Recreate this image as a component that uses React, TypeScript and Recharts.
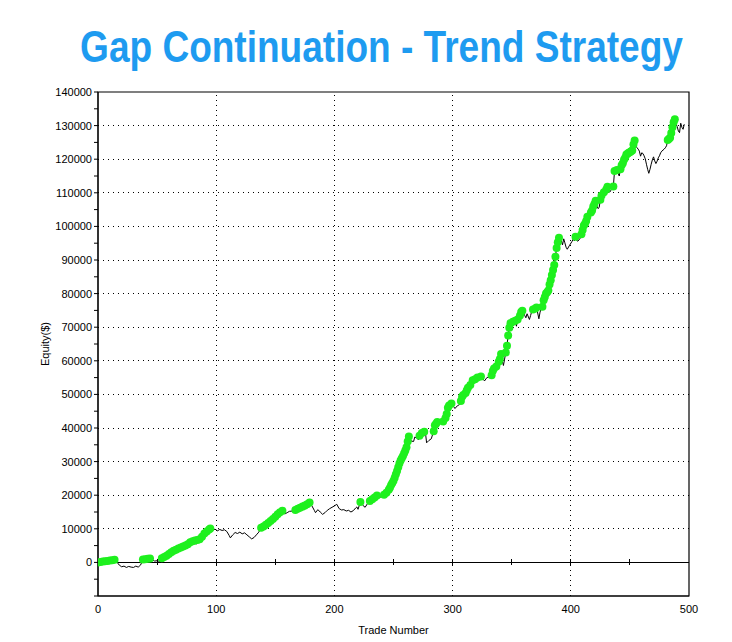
import React from 'react';
import {
  ComposedChart,
  Line,
  XAxis,
  YAxis,
  ReferenceLine,
  ReferenceArea,
} from 'recharts';

// Closed-trade equity curve: trade number and cumulative equity ($)
const tradeNumbers = [
  0, 2, 4, 6, 8, 10, 12, 14, 16, 18, 20, 22, 24, 26, 28, 30, 32, 34, 36, 38, 40, 42, 44, 46, 48, 50, 52, 53,
  54, 56, 58, 60, 62, 64, 66, 68, 70, 72, 74, 76, 78, 80, 82, 83, 84, 86, 88, 90, 92, 94, 95,
  97, 99, 101, 103, 105, 107, 109, 111, 112, 114, 116, 118, 120, 122, 124, 126, 128, 130, 132, 134, 136,
  138, 140, 142, 144, 146, 148, 150, 152, 154, 156, 158, 160, 162, 165,
  167, 169, 171, 173, 175, 177, 179, 181, 183, 184, 186, 188, 190, 192, 194, 196, 198, 200, 202, 204, 206,
  208, 210, 212, 214, 216, 218, 219, 220, 222, 224, 226, 228, 230, 232, 234, 236, 238, 240, 242, 244, 246,
  247, 248, 249, 250, 251, 252, 253, 254, 255, 256, 257, 258, 259, 260, 261, 262, 263, 265, 267, 268, 270,
  271, 272, 274, 276, 277, 278, 280, 282, 283, 284, 285, 286, 287, 289, 291, 292, 294, 295, 296, 297, 299,
  301, 302, 304, 306, 307, 308, 309, 311, 312, 313, 315, 317, 319, 321, 322, 324, 326, 327, 329, 331, 333,
  334, 335, 337, 339, 340, 341, 342, 343, 344, 345, 346, 347, 348, 349, 351, 353, 354, 355, 357, 358, 359,
  361, 362, 363, 365, 366, 367, 368, 370, 371, 373, 374, 375, 376, 377, 378, 379, 380, 381, 382, 383, 384,
  385, 386, 387, 388, 389, 390, 391, 392, 393, 394, 395, 396, 397, 399, 401, 402, 403, 404, 405, 406, 408,
  409, 410, 411, 412, 413, 414, 415, 416, 417, 418, 419, 420, 421, 422, 423, 424, 425, 426, 428, 430, 431,
  432, 433, 434, 435, 436, 437, 438, 439, 440, 441, 442, 443, 444, 445, 446, 447, 448, 449, 450, 451, 452,
  453, 454, 455, 456, 457, 458, 459, 460, 461, 462, 463, 464, 465, 466, 467, 468, 469, 470, 471, 472, 473,
  474, 475, 476, 477, 478, 479, 480, 481, 482, 483, 484, 485, 486, 487, 488, 489, 490, 491, 492, 493, 494,
  495, 496,
];

const equity = [
  0, 150, 250, 350, 450, 550, 650, 800, 100, -800, -1300, -1100, -1500, -1200, -1400, -1500, -1100, -1400, -800, 850, 950, 1050, 1150, 700, 400, 500, 300, 600,
  1200, 1600, 2000, 2500, 3000, 3500, 3800, 4100, 4400, 4700, 5000, 5400, 6000, 6300, 6500, 5400, 6700, 6900, 7600, 8600, 9200, 9800, 10100,
  9600, 9900, 9400, 9800, 9500, 9700, 9200, 8000, 7300, 8200, 8900, 8600, 9000, 8500, 8800, 8200, 7600, 7000, 7400, 8200, 9000,
  10300, 10700, 11200, 11700, 12300, 12900, 13600, 14300, 14900, 15400, 14400, 14800, 15200, 15300,
  15600, 16000, 16300, 16600, 16900, 17300, 17800, 16800, 15500, 14800, 15700, 15000, 14300, 14800, 15500, 16000, 16400, 16800, 17300, 16000, 15600,
  15700, 15300, 15500, 15000, 15400, 16200, 16500, 15800, 18000, 17000, 16400, 17500, 18300, 18800, 19300, 19900, 19400, 19500, 20100, 20700, 21600,
  22200, 23000, 23600, 24300, 25200, 26200, 27200, 28300, 29400, 30300, 31000, 31700, 32500, 33300, 34300, 36000, 37500, 36100, 36000, 37300, 37000,
  36500, 37700, 38500, 38900, 38700, 35600, 36300, 36800, 38000, 39000, 40800, 41300, 41800, 41500, 41700, 41900, 43000, 44200, 46000, 46700, 47300,
  46300, 45800, 46600, 47000, 48000, 49300, 49800, 50400, 51200, 52000, 52800, 54200, 54500, 55000, 54700, 55300, 54500, 54000, 55000, 55200, 55700,
  57000, 57700, 58300, 59700, 60500, 62000, 60000, 58600, 60500, 62500, 64500, 67500, 69800, 71200, 71600, 71900, 70300, 72300, 73500, 74500, 74900,
  73500, 72800, 74000, 72300, 73500, 74800, 75300, 75600, 75900, 72500, 74500, 75500, 76100, 78000, 79000, 80000, 80400, 80900, 82700, 84000, 85500,
  87000, 88500, 91000, 93600, 95300, 96600, 95000, 95700, 94500, 96300, 95100, 93800, 93200, 94400, 95500, 96200, 95700, 96900, 95800, 95600, 96500,
  97700, 98900, 100300, 100800, 101600, 102900, 101100, 102100, 104100, 104700, 105900, 106700, 107600, 106200, 105300, 105600, 107900, 109200, 110200, 111000, 111800,
  110500, 110200, 110800, 111200, 111900, 116500, 116200, 116800, 115800, 115000, 117000, 118200, 118800, 119800, 120400, 121400, 121600, 121900, 122100, 122400, 122600,
  124400, 125600, 124200, 123400, 123000, 122400, 120900, 121900, 121700, 121000, 120100, 118500, 117000, 115800, 117000, 118500, 119800, 120700, 119500, 118700, 119400,
  120400, 121000, 121900, 122400, 122700, 123000, 123400, 124000, 125700, 126000, 126400, 127800, 129500, 131000, 131900, 130500, 129700, 128400, 127900, 130700, 129500,
  128900, 130400,
];

const xTicks = [0, 100, 200, 300, 400, 500];
const xGridValues = [100, 200, 300, 400];
const zeroLineTicks = [50, 100, 150, 200, 250, 300, 350, 400, 450];
const yTicks = [
  -10000, -5000, 0, 5000, 10000, 15000, 20000, 25000, 30000, 35000, 40000, 45000, 50000, 55000, 60000,
  65000, 70000, 75000, 80000, 85000, 90000, 95000, 100000, 105000, 110000, 115000, 120000, 125000,
  130000, 135000, 140000,
];
const yGridValues = [
  10000, 20000, 30000, 40000, 50000, 60000, 70000, 80000, 90000, 100000, 110000, 120000, 130000,
];

// Mark every trade that closes at a new equity high
let peak = -Infinity;
const rows = tradeNumbers.map((trade, i) => {
  const value = equity[i];
  const high = value > peak;
  if (high) peak = value;
  return { trade, equity: value, high };
});

const FONT = 'Liberation Sans, Arial, sans-serif';
// Horizontal squeeze for the condensed-looking title face
const TITLE_SQUEEZE = 0.842;

const renderDot = (props: any) => {
  const { cx, cy, payload, index } = props;
  if (!payload || !payload.high) return <g key={`d${index}`} />;
  return <circle key={`d${index}`} cx={cx} cy={cy} r={4} fill="#1ef01e" stroke="none" />;
};

const renderYTick = (props: any) => {
  const { x, y, payload } = props;
  const v = payload.value;
  if (v < 0 || v % 10000 !== 0) return <g />;
  return (
    <text x={x} y={y} dy="0.355em" textAnchor="end" fontSize={11} fontFamily={FONT} fill="#000">
      {v}
    </text>
  );
};

export default function App() {
  return (
    <div style={{ position: 'relative', width: 724, height: 634, background: '#fff' }}>
      <svg width={724} height={84} style={{ position: 'absolute', left: 0, top: 0 }}>
        <text
          x={373.5 / TITLE_SQUEEZE}
          y={54}
          transform={`scale(${TITLE_SQUEEZE},1)`}
          textAnchor="middle"
          fontSize={44}
          fontWeight="bold"
          fontFamily={FONT}
          fill="#1e9bf0"
        >
          Gap Continuation - Trend Strategy
        </text>
      </svg>
      <ComposedChart
        width={724}
        height={634}
        data={rows}
        margin={{ top: 84, right: 43, bottom: 16, left: 0 }}
      >
        <XAxis
          dataKey="trade"
          type="number"
          domain={[0, 500]}
          ticks={xTicks}
          interval={0}
          allowDataOverflow
          height={30}
          tickSize={0}
          tickMargin={9}
          tickLine={false}
          axisLine={{ stroke: '#000' }}
          tick={{ fill: '#000', fontSize: 11, fontFamily: FONT }}
          label={{
            value: 'Trade Number',
            position: 'bottom',
            offset: 0,
            fill: '#000',
            fontSize: 11,
            fontFamily: FONT,
          }}
        />
        <YAxis
          type="number"
          domain={[-10000, 140000]}
          ticks={yTicks}
          interval={0}
          allowDataOverflow
          width={90}
          tickSize={4}
          tickMargin={2}
          tickLine={{ stroke: '#000' }}
          axisLine={{ stroke: '#000' }}
          tick={renderYTick}
          label={{
            value: 'Equity($)',
            angle: -90,
            position: 'center',
            dx: -8,
            fill: '#000',
            fontSize: 11,
            fontFamily: FONT,
          }}
        />
        {yGridValues.map((v) => (
          <ReferenceLine
            key={`hy${v}`}
            y={v}
            stroke="#000"
            strokeDasharray="1 4"
            shapeRendering="crispEdges"
          />
        ))}
        {xGridValues.map((v) => (
          <ReferenceLine
            key={`vx${v}`}
            x={v}
            stroke="#000"
            strokeDasharray="1 4"
            shapeRendering="crispEdges"
          />
        ))}
        <ReferenceLine y={0} stroke="#000" strokeWidth={1.2} shapeRendering="crispEdges" />
        {zeroLineTicks.map((t) => (
          <ReferenceLine
            key={`zt${t}`}
            segment={[
              { x: t, y: -900 },
              { x: t, y: 900 },
            ]}
            stroke="#000"
            shapeRendering="crispEdges"
          />
        ))}
        <ReferenceArea
          x1={0}
          x2={500}
          y1={-10000}
          y2={140000}
          fill="none"
          fillOpacity={0}
          stroke="#000"
          strokeWidth={1.2}
        />
        <Line
          dataKey="equity"
          type="linear"
          stroke="#000"
          strokeWidth={1}
          dot={renderDot}
          activeDot={false}
          isAnimationActive={false}
        />
      </ComposedChart>
    </div>
  );
}
